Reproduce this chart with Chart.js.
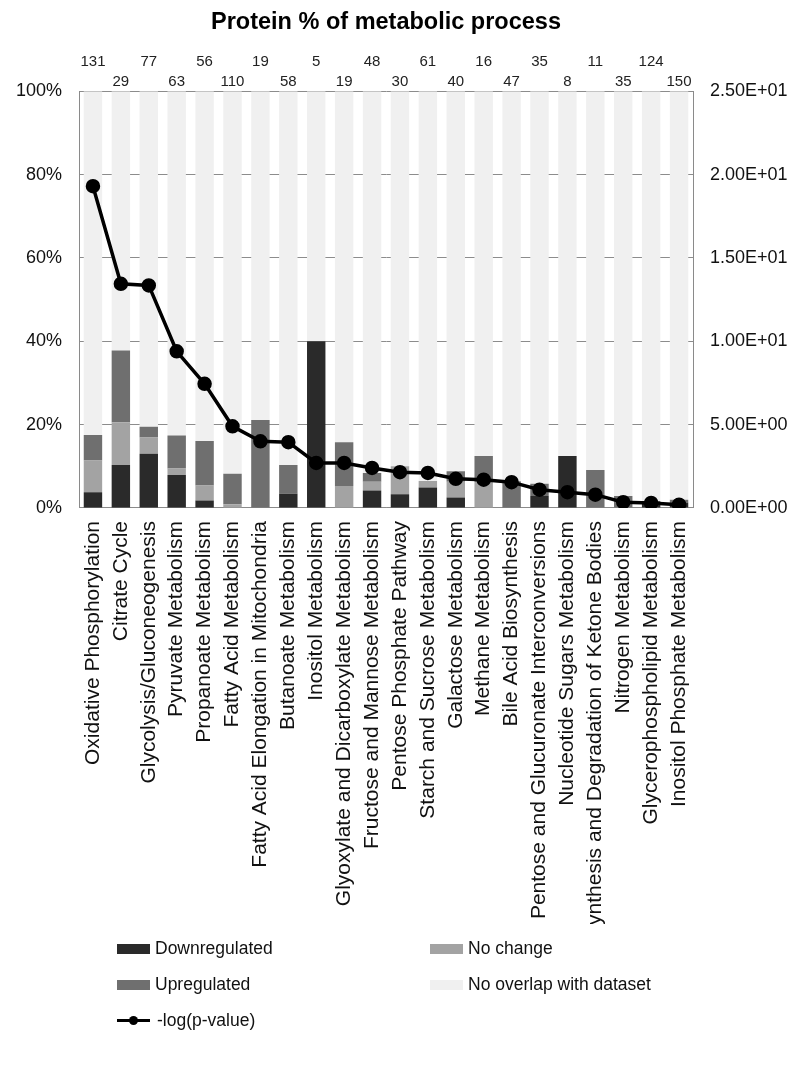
<!DOCTYPE html>
<html>
<head>
<meta charset="utf-8">
<script src="https://cdn.jsdelivr.net/npm/chart.js@4"></script>
<style>
  html, body { margin: 0; padding: 0; background: #fff; }
  #wrap { position: relative; width: 803px; height: 1067px; }
  canvas { position: absolute; left: 0; top: 0; }
  .leg { position: absolute; display: flex; align-items: center; font: 17.5px "Liberation Sans", Arial, sans-serif; color: #111; }
  .leg .box { width: 33px; height: 10px; margin-right: 5px; }
  .leg .ln { position: relative; width: 33px; height: 3px; background: #000; margin-right: 7px; }
  .leg .ln::after { content: ""; position: absolute; left: 12px; top: -3px; width: 9px; height: 9px; border-radius: 50%; background: #000; }
</style>
</head>
<body>
<div id="wrap">
  <canvas id="chart" width="803" height="1067"></canvas>
  <div class="leg" style="left:117px;top:938px"><span class="box" style="background:#2a2a2a"></span>Downregulated</div>
  <div class="leg" style="left:430px;top:938px"><span class="box" style="background:#a3a3a3"></span>No change</div>
  <div class="leg" style="left:117px;top:974px"><span class="box" style="background:#6f6f6f"></span>Upregulated</div>
  <div class="leg" style="left:430px;top:974px"><span class="box" style="background:#f0f0f0"></span>No overlap with dataset</div>
  <div class="leg" style="left:117px;top:1010px"><span class="ln"></span>-log(p-value)</div>
</div>
<script>
const categories = [
  "Oxidative Phosphorylation", "Citrate Cycle", "Glycolysis/Gluconeogenesis",
  "Pyruvate Metabolism", "Propanoate Metabolism", "Fatty Acid Metabolism",
  "Fatty Acid Elongation in Mitochondria", "Butanoate Metabolism", "Inositol Metabolism",
  "Glyoxylate and Dicarboxylate Metabolism", "Fructose and Mannose Metabolism",
  "Pentose Phosphate Pathway", "Starch and Sucrose Metabolism", "Galactose Metabolism",
  "Methane Metabolism", "Bile Acid Biosynthesis", "Pentose and Glucuronate Interconversions",
  "Nucleotide Sugars Metabolism", "Synthesis and Degradation of Ketone Bodies",
  "Nitrogen Metabolism", "Glycerophospholipid Metabolism", "Inositol Phosphate Metabolism"
];

// protein count per process, printed above the plot
const proteinCounts = [131, 29, 77, 63, 56, 110, 19, 58, 5, 19, 48, 30, 61, 40, 16, 47, 35, 8, 11, 35, 124, 150];

// percent of proteins in each process
const downregulated = [3.8, 10.3, 13.0, 7.9, 1.8, 0, 0, 3.4, 40, 0, 4.2, 3.3, 4.9, 2.5, 0, 0, 2.9, 12.5, 0, 0, 1.6, 1.3];
const noChange      = [7.6, 10.3, 3.9, 1.6, 3.6, 0.9, 0, 0, 0, 5.3, 2.1, 6.7, 1.6, 3.8, 6.25, 0, 0, 0, 0, 0, 0, 0];
const upregulated   = [6.1, 17.2, 2.6, 7.9, 10.7, 7.3, 21.1, 6.9, 0, 10.5, 2.1, 0, 0, 2.5, 6.25, 6.4, 2.9, 0, 9.1, 2.9, 0, 0.7];
const noOverlap     = [82.5, 62.2, 80.5, 82.6, 83.9, 91.8, 78.9, 89.7, 60, 84.2, 91.6, 90, 93.5, 91.2, 87.5, 93.6, 94.2, 87.5, 90.9, 97.1, 98.4, 98];

const negLogP = [19.3, 13.45, 13.35, 9.4, 7.45, 4.9, 4.0, 3.95, 2.7, 2.7, 2.4, 2.15, 2.1, 1.75, 1.7, 1.55, 1.1, 0.95, 0.8, 0.35, 0.3, 0.2];

const leftTickLabels = ["0%", "20%", "40%", "60%", "80%", "100%"];
const rightTickLabels = ["0.00E+00", "5.00E+00", "1.00E+01", "1.50E+01", "2.00E+01", "2.50E+01"];

const FONT = '"Liberation Sans", Arial, sans-serif';

// staggered counts above the bars
const countLabels = {
  id: "countLabels",
  afterDraw(chart) {
    const { ctx, chartArea } = chart;
    const x = chart.scales.x;
    ctx.save();
    ctx.font = "15px " + FONT;
    ctx.fillStyle = "#222";
    ctx.textAlign = "center";
    ctx.textBaseline = "middle";
    proteinCounts.forEach((n, i) => {
      const y = chartArea.top - (i % 2 === 0 ? 29 : 9);
      ctx.fillText(String(n), x.getPixelForValue(i), y);
    });
    ctx.restore();
  }
};

const barCommon = { yAxisID: "y", stack: "s", barPercentage: 0.66, categoryPercentage: 1, borderWidth: 0, order: 2 };

new Chart(document.getElementById("chart"), {
  type: "bar",
  data: {
    labels: categories,
    datasets: [
      { label: "Downregulated", data: downregulated, backgroundColor: "#2a2a2a", ...barCommon },
      { label: "No change", data: noChange, backgroundColor: "#a3a3a3", ...barCommon },
      { label: "Upregulated", data: upregulated, backgroundColor: "#6f6f6f", ...barCommon },
      { label: "No overlap with dataset", data: noOverlap, backgroundColor: "#f0f0f0", ...barCommon },
      {
        type: "line", label: "-log(p-value)", data: negLogP, yAxisID: "y2", order: 1,
        borderColor: "#000", backgroundColor: "#000", borderWidth: 3.5,
        pointRadius: 5.5, pointHoverRadius: 5.5, tension: 0
      }
    ]
  },
  options: {
    responsive: false,
    animation: false,
    layout: { padding: { left: 0, right: 0, top: 0, bottom: 143 } },
    plugins: {
      legend: { display: false },
      tooltip: { enabled: false },
      title: {
        display: true,
        text: "Protein % of metabolic process",
        fullSize: false,
        color: "#000",
        font: { family: FONT, size: 23.5, weight: "bold" },
        padding: { top: 8, bottom: 55 }
      }
    },
    scales: {
      x: {
        stacked: true,
        grid: { display: false, drawTicks: false },
        border: { color: "#8a8a8a" },
        ticks: {
          autoSkip: false, minRotation: 90, maxRotation: 90, padding: 13,
          color: "#111", font: { family: FONT, size: 21 }
        },
        afterFit(scale) { scale.height = 416; }
      },
      y: {
        stacked: true, position: "left", min: 0, max: 100,
        grid: { color: "#8c8c8c", drawTicks: false },
        border: { color: "#8a8a8a" },
        ticks: {
          stepSize: 20, padding: 17, color: "#111", font: { family: FONT, size: 18 },
          callback: (v) => leftTickLabels[v / 20]
        },
        afterFit(scale) { scale.width = 79; }
      },
      y2: {
        position: "right", min: 0, max: 25,
        grid: { display: false, drawTicks: false },
        border: { color: "#8a8a8a" },
        ticks: {
          stepSize: 5, padding: 17, color: "#111", font: { family: FONT, size: 18 },
          callback: (v) => rightTickLabels[v / 5]
        },
        afterFit(scale) { scale.width = 110; }
      }
    }
  },
  plugins: [countLabels]
});
</script>
</body>
</html>
